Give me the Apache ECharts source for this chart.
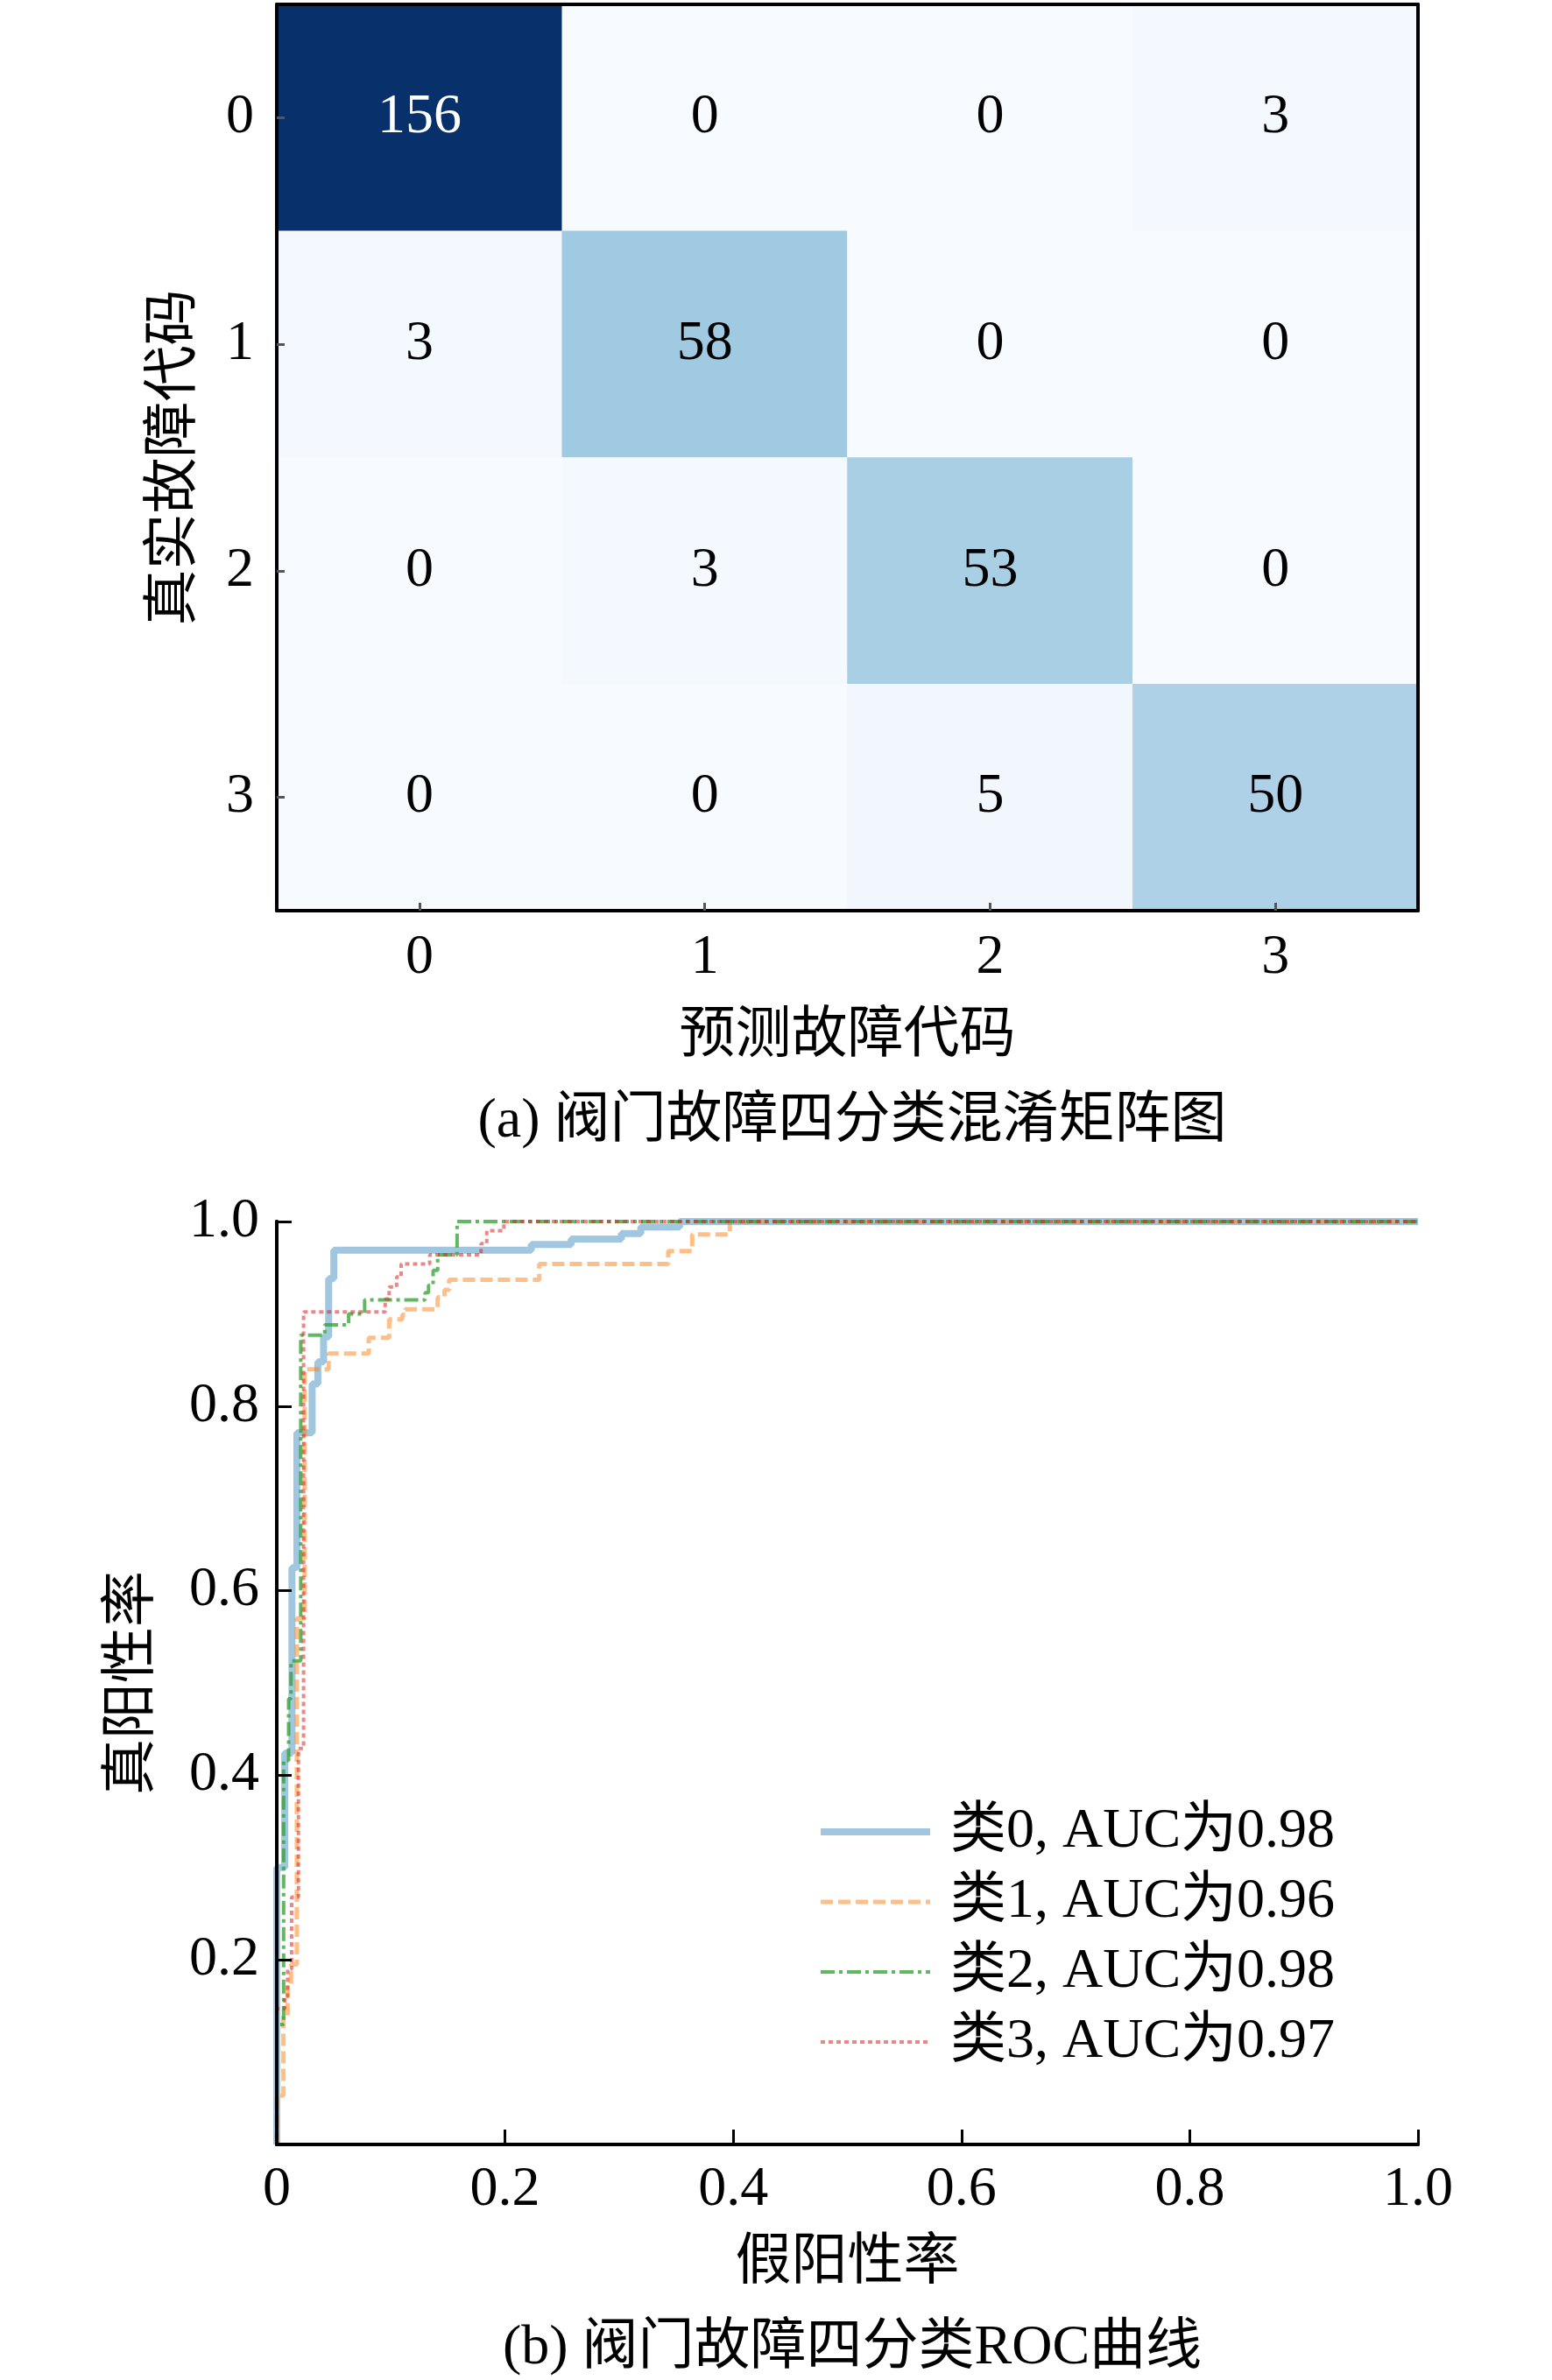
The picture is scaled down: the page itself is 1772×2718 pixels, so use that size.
<!DOCTYPE html>
<html>
<head>
<meta charset="utf-8">
<script src="https://cdn.jsdelivr.net/npm/echarts@6/dist/echarts.min.js"></script>
<style>
  html, body { margin: 0; padding: 0; background: #fff; }
  #main { width: 1772px; height: 2718px; }
</style>
</head>
<body>
<div id="main"></div>
<script>
// confusion matrix, rows = true class, cols = predicted class
const codes = ['0', '1', '2', '3'];
const matrix = [
  [156, 0, 0, 3],
  [3, 58, 0, 0],
  [0, 3, 53, 0],
  [0, 0, 5, 50]
];

// ROC curves, [FPR, TPR]
const roc0 = [[0,0],[0,0.30],[0.007,0.30],[0.007,0.424],[0.0133,0.424],[0.0133,0.625],[0.0176,0.625],
  [0.0176,0.771],[0.031,0.771],[0.031,0.824],[0.036,0.824],[0.036,0.848],[0.041,0.848],[0.041,0.875],
  [0.0455,0.875],[0.0455,0.938],[0.050,0.938],[0.050,0.969],[0.223,0.969],[0.223,0.975],[0.258,0.975],
  [0.258,0.981],[0.302,0.981],[0.302,0.987],[0.319,0.987],[0.319,0.994],[0.353,0.994],[0.353,1],[1,1]];
const roc1 = [[0,0],[0,0.053],[0.0058,0.053],[0.0058,0.14],[0.0095,0.14],[0.0095,0.173],[0.0125,0.173],
  [0.0125,0.195],[0.0176,0.195],[0.0176,0.57],[0.0245,0.57],[0.0245,0.84],[0.0455,0.84],[0.0455,0.857],
  [0.0806,0.857],[0.0806,0.874],[0.0985,0.874],[0.0985,0.894],[0.110,0.894],[0.110,0.899],[0.1126,0.899],
  [0.1126,0.905],[0.141,0.905],[0.141,0.918],[0.147,0.918],[0.147,0.926],[0.151,0.926],[0.151,0.937],
  [0.230,0.937],[0.230,0.954],[0.343,0.954],[0.343,0.968],[0.364,0.968],[0.364,0.986],[0.397,0.986],
  [0.397,1],[1,1]];
const roc2 = [[0,0],[0,0.13],[0.006,0.13],[0.006,0.416],[0.0104,0.416],[0.0104,0.483],[0.0125,0.483],
  [0.0125,0.524],[0.021,0.524],[0.021,0.877],[0.042,0.877],[0.042,0.888],[0.063,0.888],[0.063,0.900],
  [0.077,0.900],[0.077,0.915],[0.130,0.915],[0.130,0.923],[0.133,0.923],[0.133,0.931],[0.137,0.931],
  [0.137,0.947],[0.141,0.947],[0.141,0.964],[0.158,0.964],[0.158,1],[1,1]];
const roc3 = [[0,0],[0,0.147],[0.007,0.147],[0.007,0.16],[0.0095,0.16],[0.0095,0.19],[0.013,0.19],
  [0.013,0.268],[0.019,0.268],[0.019,0.429],[0.0235,0.429],[0.0235,0.902],[0.095,0.902],[0.095,0.916],
  [0.0985,0.916],[0.0985,0.929],[0.105,0.929],[0.105,0.94],[0.109,0.94],[0.109,0.954],[0.134,0.954],
  [0.134,0.964],[0.179,0.964],[0.179,0.976],[0.184,0.976],[0.184,0.99],[0.199,0.99],[0.199,1],[1,1]];

const classNames = ['类0', '类1', '类2', '类3'];
const aucValues = ['0.98', '0.96', '0.98', '0.97'];

const FONT = "'Liberation Serif', 'Times New Roman', 'Noto Sans CJK SC', serif";
const blues = ['#f7fbff','#deebf7','#c6dbef','#9ecae1','#6baed6','#4292c6','#2171b5','#08519c','#08306b'];

const chart = echarts.init(document.getElementById('main'));

// heatmap cells
var cells = [];
var vmax = 0;
matrix.forEach(function (row) { row.forEach(function (v) { vmax = Math.max(vmax, v); }); });
matrix.forEach(function (row, r) {
  row.forEach(function (v, c) {
    cells.push({ value: [c, r, v], label: { color: v > vmax / 2 ? '#fff' : '#000' } });
  });
});

var rocData = [roc0, roc1, roc2, roc3];
var rocStyles = [
  { color: 'rgba(31,119,180,0.42)', width: 8, type: 'solid' },
  { color: 'rgba(255,127,14,0.5)', width: 5, type: [14, 6] },
  { color: 'rgba(44,160,44,0.75)', width: 4, type: [16, 5, 4, 5] },
  { color: 'rgba(214,39,40,0.55)', width: 4, type: [5, 4] }
];
var legendNames = classNames.map(function (n, i) { return n + ', AUC为' + aucValues[i]; });

var borderAxis = { show: true, lineStyle: { color: '#000', width: 4 } };

var option = {
  backgroundColor: '#fff',
  textStyle: { fontFamily: FONT },
  title: [
    { text: '(a) 阀门故障四分类混淆矩阵图', left: 968, top: 1240, textAlign: 'center',
      textStyle: { fontFamily: FONT, fontSize: 64, fontWeight: 'normal', color: '#000', lineHeight: 72 } },
    { text: '(b) 阀门故障四分类ROC曲线', left: 968, top: 2641, textAlign: 'center',
      textStyle: { fontFamily: FONT, fontSize: 64, fontWeight: 'normal', color: '#000', lineHeight: 72 } }
  ],
  grid: [
    { left: 316, top: 5, width: 1303, height: 1035 },
    { left: 316, top: 1395, width: 1303, height: 1054 }
  ],
  visualMap: {
    show: false, type: 'continuous', min: 0, max: vmax, seriesIndex: 0,
    inRange: { color: blues }
  },
  legend: {
    orient: 'vertical', left: 928, top: 2052,
    itemWidth: 125, itemHeight: 20, itemGap: 10,
    itemStyle: { opacity: 0 },
    data: legendNames.map(function (n, i) {
      return { name: n, lineStyle: { width: rocStyles[i].width, color: rocStyles[i].color, type: rocStyles[i].type } };
    }),
    textStyle: { fontFamily: FONT, fontSize: 64, color: '#000', lineHeight: 70, padding: [0, 0, 0, 18] }
  },
  xAxis: [
    { type: 'category', gridIndex: 0, data: codes, position: 'bottom', z: 10,
      axisLine: borderAxis,
      axisTick: { show: true, inside: true, alignWithLabel: true, length: 9, lineStyle: { color: '#555', width: 3 } },
      axisLabel: { fontFamily: FONT, fontSize: 64, color: '#000', margin: 22 },
      splitLine: { show: false },
      name: '预测故障代码', nameLocation: 'middle', nameGap: 112,
      nameTextStyle: { fontFamily: FONT, fontSize: 64, color: '#000' } },
    { type: 'category', gridIndex: 0, data: codes, position: 'top', z: 10,
      axisLine: borderAxis, axisTick: { show: false }, axisLabel: { show: false } },
    { type: 'value', gridIndex: 1, min: 0, max: 1, interval: 0.2, position: 'bottom', z: 10,
      axisLine: borderAxis,
      axisTick: { show: true, inside: true, length: 17, lineStyle: { color: '#000', width: 3 } },
      axisLabel: { fontFamily: FONT, fontSize: 64, color: '#000', margin: 20,
        formatter: function (v) { return v === 0 ? '0' : v.toFixed(1); } },
      splitLine: { show: false },
      name: '假阳性率', nameLocation: 'middle', nameGap: 104,
      nameTextStyle: { fontFamily: FONT, fontSize: 64, color: '#000' } },
    { type: 'value', gridIndex: 1, min: 0, max: 1, position: 'top', z: 10,
      axisLine: borderAxis, axisTick: { show: false }, axisLabel: { show: false }, splitLine: { show: false } }
  ],
  yAxis: [
    { type: 'category', gridIndex: 0, data: codes, inverse: true, position: 'left', z: 10,
      axisLine: borderAxis,
      axisTick: { show: true, inside: true, alignWithLabel: true, length: 9, lineStyle: { color: '#555', width: 3 } },
      axisLabel: { fontFamily: FONT, fontSize: 64, color: '#000', margin: 26 },
      splitLine: { show: false },
      name: '真实故障代码', nameLocation: 'middle', nameGap: 84, nameRotate: 90,
      nameTextStyle: { fontFamily: FONT, fontSize: 64, color: '#000' } },
    { type: 'category', gridIndex: 0, data: codes, inverse: true, position: 'right', z: 10,
      axisLine: borderAxis, axisTick: { show: false }, axisLabel: { show: false } },
    { type: 'value', gridIndex: 1, min: 0, max: 1, interval: 0.2, position: 'left', z: 10,
      axisLine: borderAxis,
      axisTick: { show: true, inside: true, length: 17, lineStyle: { color: '#000', width: 3 } },
      axisLabel: { fontFamily: FONT, fontSize: 64, color: '#000', margin: 20,
        formatter: function (v) { return v === 0 ? '' : v.toFixed(1); } },
      splitLine: { show: false },
      name: '真阳性率', nameLocation: 'middle', nameGap: 132, nameRotate: 90,
      nameTextStyle: { fontFamily: FONT, fontSize: 64, color: '#000' } },
    { type: 'value', gridIndex: 1, min: 0, max: 1, position: 'right', z: 10,
      axisLine: borderAxis, axisTick: { show: false }, axisLabel: { show: false }, splitLine: { show: false } }
  ],
  series: [
    {
      type: 'heatmap', xAxisIndex: 0, yAxisIndex: 0, data: cells,
      label: { show: true, fontFamily: FONT, fontSize: 64 },
      emphasis: { disabled: true }
    }
  ].concat(rocData.map(function (d, i) {
    return {
      type: 'line', name: legendNames[i], xAxisIndex: 2, yAxisIndex: 2,
      data: d, symbol: 'none', animation: false,
      lineStyle: rocStyles[i], itemStyle: { color: rocStyles[i].color }
    };
  })),
  animation: false
};

chart.setOption(option);
</script>
</body>
</html>
